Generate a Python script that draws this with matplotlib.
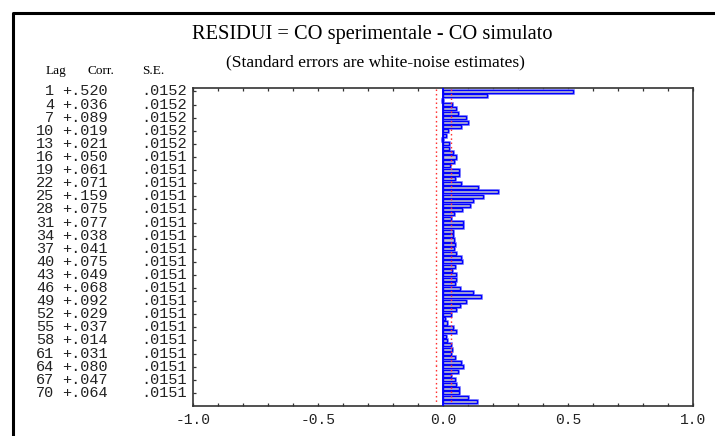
import matplotlib
matplotlib.use("Agg")
import matplotlib.pyplot as plt
from matplotlib.lines import Line2D
from matplotlib.ticker import MultipleLocator, FormatStrFormatter
import matplotlib.transforms as mtransforms

# autocorrelations of the residuals, lag 1..72
lags = list(range(1, 73))
corr = [0.520, 0.173, -0.005, 0.036, 0.052, 0.060, 0.089, 0.099, 0.071, 0.019,
        0.009, -0.005, 0.021, 0.023, 0.037, 0.050, 0.041, 0.025, 0.061, 0.063,
        0.046, 0.071, 0.139, 0.219, 0.159, 0.119, 0.105, 0.075, 0.041, 0.032,
        0.077, 0.080, 0.037, 0.038, 0.044, 0.048, 0.041, 0.052, 0.069, 0.075,
        0.045, 0.035, 0.049, 0.052, 0.048, 0.068, 0.119, 0.149, 0.092, 0.065,
        0.050, 0.029, 0.008, 0.013, 0.037, 0.049, 0.012, 0.014, 0.032, 0.033,
        0.031, 0.048, 0.069, 0.080, 0.058, 0.032, 0.047, 0.052, 0.064, 0.064,
        0.099, 0.133]

# rows printed in the table (every third lag)
table_lags = [1, 4, 7, 10, 13, 16, 19, 22, 25, 28, 31, 34, 37, 40, 43, 46,
              49, 52, 55, 58, 61, 64, 67, 70]
table_se = [0.0152, 0.0152, 0.0152, 0.0152, 0.0152, 0.0151, 0.0151, 0.0151,
            0.0151, 0.0151, 0.0151, 0.0151, 0.0151, 0.0151, 0.0151, 0.0151,
            0.0151, 0.0151, 0.0151, 0.0151, 0.0151, 0.0151, 0.0151, 0.0151]

title = "RESIDUI = CO sperimentale - CO simulato"
subtitle = "(Standard errors are white-noise estimates)"

plt.rcParams['font.family'] = ['Liberation Mono', 'DejaVu Sans Mono']
plt.rcParams['axes.unicode_minus'] = False
W, H = 715, 436
serif = ['Liberation Serif', 'DejaVu Serif']

def fx(px):
    return px / W

def fy(py):
    return 1 - py / H

fig = plt.figure(figsize=(W / 100, H / 100), dpi=100)
ax = fig.add_axes([fx(193.3), fy(406), 500 / W, 318 / H])

# bars: soft halo + blue edge
ax.barh(lags, corr, height=0.7, color='none', edgecolor='#8c8cff',
        linewidth=2.0, zorder=2)
ax.barh(lags, corr, height=0.7, color='#c0c0cc', edgecolor='#0000ff',
        linewidth=1.0, zorder=3)
ax.axvline(0, color='#0000ff', lw=1.3, zorder=4)

# +/- 2 SE limits
for lag, se in zip(table_lags, table_se):
    for s in (-2, 2):
        ax.plot([s * se, s * se], [lag - 0.5, lag + 2.5], color='#ff3030',
                lw=1.0, linestyle=(0, (1.1, 2.1)), zorder=5)

ax.set_xlim(-1, 1)
ax.set_ylim(73.0, 0.2)
ax.xaxis.set_major_locator(MultipleLocator(0.5))
ax.xaxis.set_minor_locator(MultipleLocator(0.1))
ax.xaxis.set_major_formatter(FormatStrFormatter('%.1f'))
ax.set_yticks(table_lags)
ax.set_yticklabels([])
ax.tick_params(axis='x', which='both', direction='in', top=True, bottom=True,
               length=2.4, width=0.9, color='#333333', labelsize=10.5, pad=5,
               labelcolor='#222222')
ax.tick_params(axis='y', direction='in', left=True, right=False, length=2.4,
               width=0.9, color='#333333')
for sp in ax.spines.values():
    sp.set_linewidth(1.2)
    sp.set_color('#333333')

# table on the left
tr = mtransforms.blended_transform_factory(fig.transFigure, ax.transData)
for lag, se in zip(table_lags, table_se):
    c = corr[lag - 1]
    cs = ('+' if c >= 0 else '-') + ('%.3f' % abs(c))[1:]
    ses = ('%.4f' % se)[1:]
    fig.text(fx(54.5), lag, str(lag), transform=tr, ha='right', va='center',
             fontsize=11, color='#222222')
    fig.text(fx(62), lag, cs, transform=tr, ha='left', va='center',
             fontsize=11, color='#222222')
    fig.text(fx(141), lag, ses, transform=tr, ha='left', va='center',
             fontsize=11, color='#222222')

fig.text(fx(46), fy(71), "Lag", family=serif, fontsize=9.5, va='center')
fig.text(fx(88), fy(71), "Corr.", family=serif, fontsize=9.5, va='center')
fig.text(fx(142), fy(71), "S.E.", family=serif, fontsize=9.5, va='center')

fig.text(fx(372), fy(34), title, family=serif, fontsize=14.7,
         ha='center', va='center')
fig.text(fx(375), fy(62), subtitle, family=serif, fontsize=12.5,
         ha='center', va='center')

# outer frame (left and top edges visible)
fig.add_artist(Line2D([fx(12.5), fx(12.5), 1.0], [0.0, fy(13), fy(13)],
                      transform=fig.transFigure, color='black', lw=2.2))

fig.savefig("out.png", dpi=100)
